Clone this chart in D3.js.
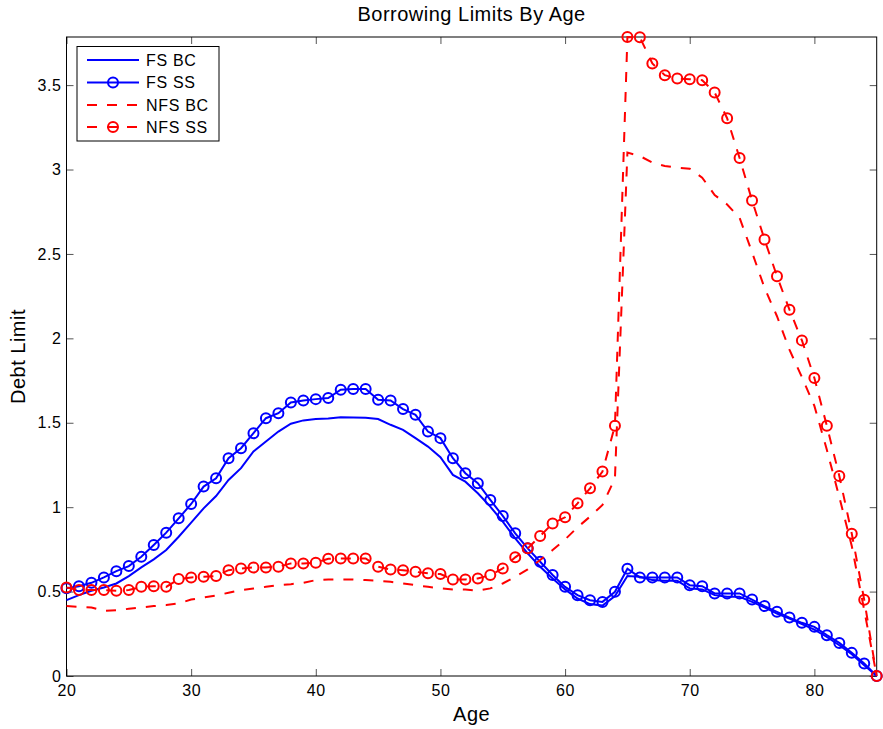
<!DOCTYPE html>
<html lang="en">
  <head>
    <meta charset="UTF-8" />
    <script src="https://d3js.org/d3.v7.min.js"></script>
    <title>Borrowing Limits By Age</title>
    <style>
      body { margin: 0; background: #fff; }
      text { font-family: "Liberation Sans", Arial, Helvetica, sans-serif; fill: #000; }
    </style>
  </head>
  <body>
    <div id="chart"></div>
    <script>

    // ages 20..85
    var ages = d3.range(20, 86);

    var fsBC = [0.449, 0.479, 0.505, 0.524, 0.548, 0.592, 0.643, 0.691, 0.746, 0.825,
                0.908, 0.993, 1.066, 1.161, 1.231, 1.330, 1.389, 1.448, 1.494, 1.514,
                1.522, 1.525, 1.533, 1.531, 1.529, 1.522, 1.488, 1.458, 1.409, 1.359,
                1.296, 1.191, 1.151, 1.082, 1.003, 0.914, 0.815, 0.726, 0.647, 0.578,
                0.513, 0.459, 0.426, 0.417, 0.474, 0.592, 0.588, 0.568, 0.564, 0.564,
                0.519, 0.513, 0.479, 0.469, 0.469, 0.439, 0.406, 0.370, 0.340, 0.307,
                0.275, 0.231, 0.182, 0.129, 0.064, 0];

    var fsSS = [0.520, 0.532, 0.552, 0.584, 0.621, 0.651, 0.706, 0.776, 0.849, 0.934,
                1.019, 1.122, 1.171, 1.290, 1.349, 1.438, 1.527, 1.557, 1.620, 1.632,
                1.640, 1.646, 1.696, 1.700, 1.700, 1.636, 1.632, 1.581, 1.547, 1.448,
                1.409, 1.290, 1.201, 1.142, 1.043, 0.948, 0.845, 0.756, 0.677, 0.598,
                0.528, 0.479, 0.449, 0.439, 0.499, 0.635, 0.584, 0.584, 0.584, 0.584,
                0.538, 0.532, 0.489, 0.489, 0.489, 0.453, 0.414, 0.380, 0.346, 0.315,
                0.291, 0.242, 0.196, 0.137, 0.074, 0];

    var nfsBC = [0.414, 0.410, 0.406, 0.386, 0.390, 0.398, 0.406, 0.414, 0.420, 0.430,
                 0.453, 0.465, 0.477, 0.493, 0.509, 0.518, 0.528, 0.538, 0.544, 0.552,
                 0.568, 0.572, 0.572, 0.572, 0.568, 0.564, 0.558, 0.548, 0.538, 0.528,
                 0.519, 0.513, 0.513, 0.505, 0.519, 0.548, 0.588, 0.631, 0.687, 0.746,
                 0.809, 0.881, 0.944, 1.013, 1.171, 3.100, 3.080, 3.041, 3.021, 3.011,
                 3.005, 2.952, 2.849, 2.793, 2.714, 2.510, 2.299, 2.131, 1.933, 1.770,
                 1.600, 1.340, 1.060, 0.770, 0.390, 0];

    var nfsSS = [0.524, 0.509, 0.509, 0.509, 0.505, 0.509, 0.528, 0.532, 0.528, 0.574,
                 0.584, 0.588, 0.592, 0.627, 0.637, 0.643, 0.643, 0.647, 0.667, 0.667,
                 0.671, 0.694, 0.696, 0.696, 0.696, 0.647, 0.631, 0.627, 0.617, 0.608,
                 0.604, 0.572, 0.572, 0.578, 0.598, 0.637, 0.703, 0.756, 0.829, 0.904,
                 0.940, 1.023, 1.112, 1.211, 1.482, 3.785, 3.783, 3.628, 3.559, 3.539,
                 3.535, 3.529, 3.456, 3.304, 3.068, 2.817, 2.586, 2.368, 2.170, 1.988,
                 1.765, 1.482, 1.185, 0.843, 0.451, 0];

    var xTicks = [20, 30, 40, 50, 60, 70, 80];
    var yTicks = [0, 0.5, 1, 1.5, 2, 2.5, 3, 3.5];

    var series = [
      { name: "FS BC",  values: fsBC,  color: "#0000ff", dash: null,    marker: false },
      { name: "FS SS",  values: fsSS,  color: "#0000ff", dash: null,    marker: true },
      { name: "NFS BC", values: nfsBC, color: "#ff0000", dash: "10,10", marker: false },
      { name: "NFS SS", values: nfsSS, color: "#ff0000", dash: "10,10", marker: true }
    ];

    var W = 883, H = 729;
    // plot box edges (named so they don't clash with window.top)
    var pLeft = 66.5, pRight = 876.7, pTop = 37, pBottom = 676;

    var svg = d3.select("#chart")
      .append("svg")
        .attr("width", W)
        .attr("height", H);

    var x = d3.scaleLinear().domain([20, 85]).range([pLeft, pRight]);
    var y = d3.scaleLinear().domain([0, 3.785]).range([pBottom, pTop]);

    // axes, ticks point inward on all four sides
    var tickLen = 7;
    var xb = svg.append("g")
      .attr("transform", "translate(0," + pBottom + ")")
      .call(d3.axisBottom(x).tickValues(xTicks).tickSize(-tickLen).tickPadding(9));
    var xt = svg.append("g")
      .attr("transform", "translate(0," + pTop + ")")
      .call(d3.axisTop(x).tickValues(xTicks).tickSize(-tickLen).tickFormat(""));
    var yl = svg.append("g")
      .attr("transform", "translate(" + pLeft + ",0)")
      .call(d3.axisLeft(y).tickValues(yTicks).tickSize(-tickLen).tickPadding(5)
        .tickFormat(function(d) { return String(d); }));
    var yr = svg.append("g")
      .attr("transform", "translate(" + pRight + ",0)")
      .call(d3.axisRight(y).tickValues(yTicks).tickSize(-tickLen).tickFormat(""));

    [xb, xt, yl, yr].forEach(function(g) {
      g.select(".domain").remove();
      g.selectAll(".tick line").attr("stroke", "#555").attr("stroke-width", 1);
      g.selectAll(".tick text")
        .style("font-size", "16px")
        .style("letter-spacing", "0.6px")
        .style("font-family", "'Liberation Sans', Arial, sans-serif")
        .attr("fill", "#000");
    });

    // plot box
    svg.append("rect")
      .attr("x", pLeft).attr("y", pTop)
      .attr("width", pRight - pLeft).attr("height", pBottom - pTop)
      .attr("fill", "none")
      .attr("stroke", "#000")
      .attr("stroke-width", 1);

    // lines + markers
    var line = d3.line()
      .x(function(d, i) { return x(ages[i]); })
      .y(function(d) { return y(d); });

    series.forEach(function(s) {
      svg.append("path")
        .datum(s.values)
        .attr("fill", "none")
        .attr("stroke", s.color)
        .attr("stroke-width", 2)
        .attr("stroke-dasharray", s.dash)
        .attr("d", line);

      if (s.marker) {
        svg.append("g").selectAll("circle")
          .data(s.values)
          .enter()
          .append("circle")
            .attr("cx", function(d, i) { return x(ages[i]); })
            .attr("cy", function(d) { return y(d); })
            .attr("r", 5)
            .attr("fill", "none")
            .attr("stroke", s.color)
            .attr("stroke-width", 2);
      }
    });

    // title and axis labels
    svg.append("text")
      .attr("x", (pLeft + pRight) / 2)
      .attr("y", 21)
      .attr("text-anchor", "middle")
      .style("font-size", "20px")
      .style("letter-spacing", "0.5px")
      .text("Borrowing Limits By Age");

    svg.append("text")
      .attr("x", (pLeft + pRight) / 2)
      .attr("y", 721)
      .attr("text-anchor", "middle")
      .style("font-size", "20px")
      .style("letter-spacing", "0.5px")
      .text("Age");

    svg.append("text")
      .attr("transform", "translate(25," + ((pTop + pBottom) / 2) + ") rotate(-90)")
      .attr("text-anchor", "middle")
      .style("font-size", "20px")
      .style("letter-spacing", "0.5px")
      .text("Debt Limit");

    // legend
    var legend = svg.append("g");
    legend.append("rect")
      .attr("x", 77).attr("y", 46.5)
      .attr("width", 142).attr("height", 94.5)
      .attr("fill", "#fff")
      .attr("stroke", "#000")
      .attr("stroke-width", 1);

    var rowY = [60, 82.5, 105, 127];
    series.forEach(function(s, i) {
      legend.append("line")
        .attr("x1", 87).attr("x2", 139)
        .attr("y1", rowY[i]).attr("y2", rowY[i])
        .attr("stroke", s.color)
        .attr("stroke-width", 2)
        .attr("stroke-dasharray", s.dash);
      if (s.marker) {
        legend.append("circle")
          .attr("cx", 113).attr("cy", rowY[i])
          .attr("r", 5)
          .attr("fill", "none")
          .attr("stroke", s.color)
          .attr("stroke-width", 2);
      }
      legend.append("text")
        .attr("x", 146)
        .attr("y", rowY[i])
        .attr("dy", "0.36em")
        .style("font-size", "16px")
        .style("letter-spacing", "0.7px")
        .text(s.name);
    });

    </script>
  </body>
</html>
